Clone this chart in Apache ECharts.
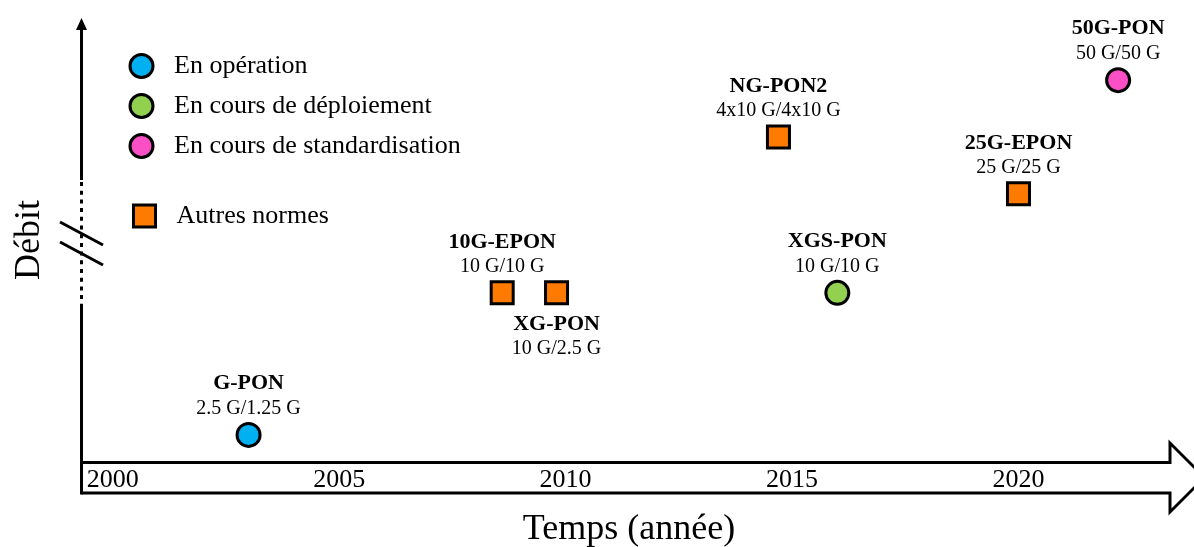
<!DOCTYPE html>
<html>
<head>
<meta charset="utf-8">
<script src="https://cdn.jsdelivr.net/npm/echarts@6/dist/echarts.min.js"></script>
<style>
  html, body { margin: 0; padding: 0; background: #fff; }
  #chart { width: 1194px; height: 547px; }
</style>
</head>
<body>
<div id="chart"></div>
<script>
// PON standards: name, downstream/upstream rate, year, relative throughput level, status
const standards = ['G-PON', '10G-EPON', 'XG-PON', 'NG-PON2', 'XGS-PON', '25G-EPON', '50G-PON'];
const rates = ['2.5 G/1.25 G', '10 G/10 G', '10 G/2.5 G', '4x10 G/4x10 G', '10 G/10 G', '25 G/25 G', '50 G/50 G'];
const years = [2003, 2008.6, 2009.8, 2014.7, 2016, 2020, 2022.2];
const debitLevels = [6.1, 38.1, 38.1, 73.2, 38.1, 60.4, 86.0];
const statuses = ['En opération', 'Autres normes', 'Autres normes', 'Autres normes',
                  'En cours de déploiement', 'Autres normes', 'En cours de standardisation'];

const statusCategories = ['En opération', 'En cours de déploiement', 'En cours de standardisation', 'Autres normes'];
const yearTicks = [2000, 2005, 2010, 2015, 2020];

const FONT = "'Liberation Serif', 'Times New Roman', serif";
const statusStyle = {
  'En opération':               { color: '#00B0F0', symbol: 'circle', size: 23 },
  'En cours de déploiement':    { color: '#92D050', symbol: 'circle', size: 23 },
  'En cours de standardisation':{ color: '#FB4FC6', symbol: 'circle', size: 23 },
  'Autres normes':              { color: '#FF7A00', symbol: 'rect',   size: 22 }
};
// labels drawn under the marker instead of above it
const labelsBelow = new Set(['XG-PON']);

const series = statusCategories.map(function (status) {
  const st = statusStyle[status];
  const data = [];
  standards.forEach(function (name, i) {
    if (statuses[i] !== status) return;
    const item = { name: name, rate: rates[i], value: [years[i], debitLevels[i]] };
    if (labelsBelow.has(name)) item.label = { position: 'bottom', distance: 6 };
    data.push(item);
  });
  return {
    name: status,
    type: 'scatter',
    symbol: st.symbol,
    symbolSize: st.size,
    itemStyle: { color: st.color, borderColor: '#000', borderWidth: 3, opacity: 1 },
    label: {
      show: true,
      position: 'top',
      distance: 1,
      align: 'center',
      formatter: function (p) { return '{n|' + p.name + '}\n{r|' + p.data.rate + '}'; },
      rich: {
        n: { fontFamily: FONT, fontSize: 22, fontWeight: 'bold', color: '#000', lineHeight: 25, align: 'center' },
        r: { fontFamily: FONT, fontSize: 20, color: '#000', lineHeight: 25, align: 'center' }
      }
    },
    emphasis: { disabled: true },
    data: data
  };
});

const AX = 81.5;        // x of the vertical axis
const axisColor = '#000';
const legendText = { fontFamily: FONT, fontSize: 26, color: '#000', padding: [0, 0, 0, 16] };

const chart = echarts.init(document.getElementById('chart'), null, { renderer: 'canvas' });
chart.setOption({
  animation: false,
  backgroundColor: '#fff',
  grid: { left: 81, right: 17, top: 18, bottom: 85, containLabel: false, outerBoundsMode: 'none' },
  xAxis: {
    type: 'value',
    min: 1999.3,
    max: 2023.5,
    name: 'Temps (année)',
    nameLocation: 'middle',
    nameGap: 50,
    nameTextStyle: { fontFamily: FONT, fontSize: 36, color: '#000' },
    axisLine: { show: false },
    axisTick: { show: false },
    splitLine: { show: false },
    axisLabel: {
      customValues: yearTicks,
      formatter: function (v) { return String(v); },
      fontFamily: FONT, fontSize: 26, color: '#000',
      verticalAlign: 'middle', margin: 18
    }
  },
  yAxis: {
    type: 'value',
    min: 0,
    max: 100,
    name: 'Débit',
    nameLocation: 'middle',
    nameGap: 25,
    nameRotate: 90,
    nameTextStyle: { fontFamily: FONT, fontSize: 36, color: '#000', padding: [0, 0, 8, 0] },
    axisLine: { show: false },
    axisTick: { show: false },
    axisLabel: { show: false },
    splitLine: { show: false }
  },
  legend: [
    {
      data: statusCategories.slice(0, 3),
      orient: 'vertical',
      left: 128.5, top: 53,
      padding: 0,
      itemWidth: 23, itemHeight: 23, itemGap: 14,
      selectedMode: false,
      textStyle: legendText,
      itemStyle: { borderColor: '#000', borderWidth: 3 }
    },
    {
      data: statusCategories.slice(3),
      orient: 'vertical',
      left: 132, top: 203,
      padding: 0,
      itemWidth: 22, itemHeight: 22,
      selectedMode: false,
      textStyle: legendText,
      itemStyle: { borderColor: '#000', borderWidth: 3 }
    }
  ],
  graphic: {
    elements: [
      // vertical axis with arrow head and a broken (dotted) stretch
      { type: 'polygon', z: 10, shape: { points: [[AX, 18], [AX - 5.5, 30], [AX + 5.5, 30]] }, style: { fill: axisColor } },
      { type: 'line', z: 10, shape: { x1: AX, y1: 28, x2: AX, y2: 180 }, style: { stroke: axisColor, lineWidth: 3 } },
      { type: 'line', z: 10, shape: { x1: AX, y1: 182, x2: AX, y2: 307 }, style: { stroke: axisColor, lineWidth: 3, lineDash: [4, 4.7] } },
      { type: 'line', z: 10, shape: { x1: AX, y1: 307, x2: AX, y2: 494.5 }, style: { stroke: axisColor, lineWidth: 3 } },
      // axis break marks
      { type: 'line', z: 10, shape: { x1: 60, y1: 222, x2: 103, y2: 245 }, style: { stroke: axisColor, lineWidth: 3 } },
      { type: 'line', z: 10, shape: { x1: 60, y1: 242, x2: 103, y2: 265 }, style: { stroke: axisColor, lineWidth: 3 } },
      // time axis drawn as a hollow block arrow
      { type: 'polyline', z: 10,
        shape: { points: [[AX, 462.5], [1170, 462.5], [1170, 443], [1204.5, 477.5], [1170, 512], [1170, 493], [AX, 493]] },
        style: { stroke: axisColor, lineWidth: 3, fill: null, lineJoin: 'miter' } }
    ]
  },
  series: series
});
</script>
</body>
</html>
